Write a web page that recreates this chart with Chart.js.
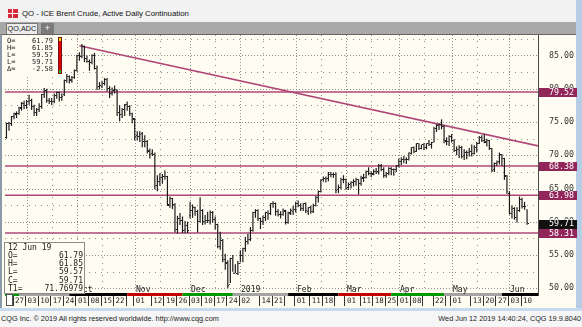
<!DOCTYPE html>
<html>
<head>
<meta charset="utf-8">
<script src="https://cdn.jsdelivr.net/npm/chart.js@4.4.0/dist/chart.umd.min.js"></script>
<style>
  html, body { margin: 0; padding: 0; }
  body { width: 582px; height: 327px; position: relative; overflow: hidden; background: #f0f0f0; font-family: "Liberation Sans", Arial, sans-serif; }
  #titlebar { position: absolute; left: 0; top: 0; width: 576px; height: 22px; background: #f2f2f2; }
  #icon { position: absolute; left: 8px; top: 9px; width: 10px; height: 9px; background-color: #d8283c;
          background-image: linear-gradient(90deg, transparent 4px, #fff 4px, #fff 5px, transparent 5px), linear-gradient(0deg, transparent 4px, #fff 4px, #fff 5px, transparent 5px); }
  #title { position: absolute; left: 22px; top: 9px; font-size: 7.8px; line-height: 10px; color: #111; white-space: nowrap; }
  #tabrow { position: absolute; left: 0; top: 22px; width: 576px; height: 12px; background: #a8a8a8; }
  #tab1 { position: absolute; left: 6px; top: 23px; width: 32px; height: 11px; background: #ececec; border: 1px solid #777; border-bottom: none; box-sizing: border-box; font-size: 7.3px; line-height: 10px; text-align: center; color: #222; }
  #tab2 { position: absolute; left: 41px; top: 23px; width: 13px; height: 11px; background: #7b7b7b; color: #fff; font-size: 9px; line-height: 11px; text-align: center; }
  #panel { position: absolute; left: 0; top: 34px; width: 576px; height: 274px; background: #fffdf2; border-top: 1px solid #666; border-left: 2px solid #8a9aa8; box-sizing: border-box; }
  #frameR { position: absolute; left: 576px; top: 0; width: 6px; height: 308px; background: #b7cde6; }
  #blueline { position: absolute; left: 0; top: 308px; width: 582px; height: 3px; background: #c6d9ee; }
  #status { position: absolute; left: 0; top: 311px; width: 582px; height: 16px; background: #f6f6f6; font-size: 7.3px; line-height: 15px; color: #222; }
  #copy { position: absolute; left: 1px; top: 0; white-space: nowrap; }
  #stamp { position: absolute; right: 1px; top: 0; white-space: nowrap; }
  #chart { position: absolute; left: 0; top: 0; }
</style>
</head>
<body>
<div id="titlebar"><div id="icon"></div><div id="title">QO - ICE Brent Crude, Active Daily Continuation</div></div>
<div id="tabrow"></div>
<div id="tab1">QO,ADC</div>
<div id="tab2">+</div>
<div id="panel"></div>
<div id="frameR"></div>
<div id="blueline"></div>
<div id="status"><span id="copy">CQG Inc. © 2019 All rights reserved worldwide. http://www.cqg.com</span><span id="stamp">Wed Jun 12 2019 14:40:24, CQG 19.9.8040</span></div>
<canvas id="chart" width="582" height="327"></canvas>
<script>
// trading calendar
var firstDay = '2018-08-22';
var lastDay = '2019-06-12';
var holidays = ['2018-12-25', '2019-01-01', '2019-04-19'];

// daily bars, Aug 22 2018 .. Jun 12 2019 (one line per month)
var opens = [
  72.70, 74.80, 74.70, 75.80, 76.20, 76.30, 77.10, 77.80,
  77.50, 78.10, 78.20, 77.30, 76.50, 76.90, 77.40, 79.10, 79.70, 78.20, 78.10, 78.10, 79.00, 79.40, 78.70, 79.10, 81.20, 81.90, 81.30, 81.70,
  82.80, 85.00, 84.80, 86.30, 84.60, 84.10, 83.90, 85.00, 83.10, 80.30, 80.40, 80.80, 81.40, 80.00, 79.30, 79.80, 79.80, 76.40, 76.20, 76.90, 77.60, 77.30, 76.30,
  75.40, 72.90, 72.80, 73.20, 72.10, 72.10, 70.60, 70.20, 70.10, 65.50, 66.10, 66.60, 66.80, 66.80, 62.50, 63.50, 62.60, 58.90, 60.50, 60.20, 58.80, 59.50,
  60.90, 61.70, 62.10, 61.60, 60.10, 61.70, 60.00, 60.20, 60.20, 61.40, 60.30, 59.60, 56.30, 57.20, 54.40, 53.80, 50.50, 54.50, 52.20, 52.20,
  53.80, 54.90, 56.00, 57.10, 57.30, 58.70, 61.40, 61.70, 60.50, 60.00, 60.60, 61.30, 61.20, 62.70, 62.70, 61.50, 61.10, 61.10, 61.60, 59.90, 61.30, 61.60,
  61.90, 62.70, 62.50, 62.00, 62.70, 61.60, 62.10, 61.50, 62.40, 63.60, 64.60, 66.30, 66.50, 66.50, 67.10, 67.10, 67.10, 64.80, 65.20, 66.40,
  66.30, 65.10, 65.70, 65.90, 66.00, 66.30, 65.70, 66.60, 66.70, 67.60, 67.20, 67.20, 67.50, 67.60, 68.50, 67.90, 67.00, 67.20, 68.00, 67.80, 67.80,
  68.40, 69.00, 69.40, 69.30, 69.40, 70.30, 71.10, 70.60, 71.70, 71.00, 71.60, 71.20, 71.70, 71.60, 72.00, 74.00, 74.50, 74.60, 74.30, 72.10, 72.00,
  72.80, 72.20, 70.70, 70.90, 71.20, 69.90, 70.40, 70.40, 70.60, 70.20, 71.20, 71.80, 72.60, 72.20, 72.00, 72.20, 71.00, 67.80, 68.70, 69.00, 70.10, 69.50, 66.90,
  64.30, 61.30, 62.00, 60.60, 61.70, 63.30, 62.30, 61.79
];
var highs = [
  74.90, 75.00, 75.90, 76.40, 76.60, 77.30, 78.00, 78.20,
  78.30, 79.10, 78.50, 77.60, 77.10, 77.80, 79.20, 80.10, 80.00, 78.60, 78.60, 79.30, 79.60, 79.60, 79.30, 81.40, 82.20, 82.00, 81.90, 82.90,
  85.10, 85.50, 86.74, 86.50, 85.00, 84.40, 85.20, 85.40, 83.50, 81.00, 81.20, 81.60, 81.60, 80.40, 80.20, 80.50, 79.90, 77.50, 77.10, 77.70, 78.10, 77.50, 76.40,
  75.60, 73.60, 73.60, 73.50, 73.00, 72.30, 71.00, 70.90, 70.40, 67.00, 67.30, 67.20, 67.70, 66.90, 63.80, 63.60, 62.80, 60.90, 61.30, 60.80, 60.10, 60.00,
  63.00, 62.60, 62.30, 61.80, 63.70, 61.90, 61.00, 61.50, 61.70, 61.60, 60.80, 59.70, 58.50, 57.40, 55.20, 54.20, 54.60, 55.00, 53.60, 54.10,
  55.70, 56.10, 57.70, 58.20, 59.20, 61.50, 61.90, 61.90, 60.60, 60.90, 61.50, 61.70, 62.80, 63.10, 62.90, 61.90, 61.60, 62.00, 61.80, 61.50, 62.00, 62.40,
  63.00, 63.20, 62.80, 62.80, 62.90, 62.20, 62.40, 62.70, 63.90, 64.70, 66.40, 66.80, 66.80, 67.50, 67.50, 67.40, 67.40, 65.60, 66.60, 67.00,
  66.50, 65.90, 66.10, 66.40, 66.60, 66.40, 66.90, 67.20, 67.70, 68.20, 67.60, 67.90, 68.10, 68.70, 68.70, 68.20, 67.50, 68.20, 68.20, 68.00, 68.50,
  69.50, 69.70, 69.90, 69.70, 70.40, 71.20, 71.30, 71.80, 71.80, 71.60, 71.80, 71.80, 72.30, 72.00, 74.30, 74.70, 74.80, 75.40, 74.50, 72.70, 73.00,
  73.20, 72.40, 71.30, 71.50, 71.40, 70.90, 70.70, 71.10, 71.60, 71.50, 72.00, 72.90, 73.00, 73.20, 72.50, 72.30, 71.10, 68.90, 69.20, 70.40, 70.20, 69.60, 67.00,
  64.60, 62.50, 62.20, 62.20, 63.80, 63.60, 63.00, 61.85
];
var lows = [
  72.50, 73.70, 74.40, 75.40, 75.60, 76.10, 76.70, 76.90,
  77.00, 77.60, 76.80, 75.90, 75.90, 76.50, 77.00, 78.60, 77.90, 77.70, 77.50, 77.80, 78.50, 78.10, 78.20, 78.90, 80.90, 80.80, 80.90, 81.50,
  82.60, 84.20, 84.60, 84.00, 83.90, 82.70, 83.70, 82.90, 79.80, 79.90, 80.10, 80.50, 79.60, 78.60, 79.00, 79.30, 75.90, 75.10, 75.60, 75.90, 76.70, 75.90, 74.80,
  72.20, 72.20, 72.00, 71.20, 71.20, 70.30, 69.50, 69.90, 64.90, 64.60, 65.40, 65.70, 66.30, 62.40, 62.10, 61.90, 58.40, 58.20, 59.50, 58.30, 58.30, 58.30,
  60.50, 60.60, 60.90, 58.40, 59.90, 59.50, 59.60, 59.80, 59.60, 59.90, 58.80, 56.00, 55.80, 53.90, 52.80, 50.00, 50.80, 52.50, 52.30, 52.00,
  53.90, 53.90, 55.50, 56.60, 57.10, 58.50, 60.60, 60.10, 58.90, 59.50, 60.10, 60.30, 61.00, 62.10, 60.90, 60.80, 60.50, 60.90, 59.60, 59.70, 61.00, 61.00,
  61.40, 62.20, 61.60, 61.60, 61.30, 61.00, 61.20, 61.30, 62.30, 62.90, 64.40, 66.00, 65.90, 66.10, 66.70, 66.60, 64.30, 64.30, 64.90, 65.80,
  64.80, 64.80, 65.00, 65.30, 65.40, 64.10, 65.40, 66.00, 66.50, 67.00, 66.70, 67.00, 67.20, 67.10, 67.60, 66.60, 66.60, 67.00, 67.00, 66.90, 67.50,
  68.20, 68.50, 68.80, 68.70, 69.20, 70.10, 70.30, 70.50, 70.80, 70.90, 70.80, 70.90, 71.40, 71.00, 71.90, 73.50, 73.80, 73.90, 71.80, 71.50, 71.40,
  71.90, 70.50, 70.00, 69.60, 69.50, 69.30, 69.40, 69.80, 69.80, 70.10, 70.40, 71.70, 72.00, 71.80, 71.30, 70.80, 67.50, 67.50, 68.40, 68.60, 68.40, 66.30, 64.20,
  61.10, 60.50, 60.30, 59.90, 61.50, 62.00, 61.80, 59.57
];
var closes = [
  74.78, 74.73, 75.82, 76.21, 76.31, 77.14, 77.77, 77.42,
  78.15, 78.17, 77.27, 76.50, 76.83, 77.37, 79.06, 79.74, 78.18, 78.09, 78.05, 79.03, 79.40, 78.70, 78.80, 81.20, 81.87, 81.34, 81.72, 82.72,
  84.98, 84.80, 86.29, 84.58, 84.16, 83.91, 85.00, 83.09, 80.26, 80.43, 80.78, 81.41, 80.05, 79.29, 79.78, 79.83, 76.44, 76.17, 76.89, 77.62, 77.34, 76.31, 75.47,
  72.89, 72.83, 73.17, 72.13, 72.07, 70.65, 70.18, 70.12, 65.47, 66.12, 66.62, 66.76, 66.79, 62.53, 63.48, 62.60, 58.80, 60.48, 60.21, 58.76, 59.51, 58.71,
  61.69, 62.08, 61.56, 60.06, 61.67, 59.97, 60.20, 60.15, 61.45, 60.28, 59.61, 56.26, 57.24, 54.35, 53.82, 50.47, 54.47, 52.16, 52.20, 53.80,
  54.91, 55.95, 57.06, 57.33, 58.72, 61.44, 61.68, 60.48, 59.99, 60.64, 61.32, 61.18, 62.70, 62.74, 61.50, 61.14, 61.09, 61.64, 59.93, 61.32, 61.65, 61.89,
  62.75, 62.51, 61.98, 62.69, 61.63, 62.10, 61.51, 62.42, 63.61, 64.57, 66.25, 66.50, 66.45, 67.08, 67.07, 67.12, 64.76, 65.21, 66.39, 66.31,
  65.07, 65.67, 65.86, 65.99, 66.30, 65.74, 66.58, 66.67, 67.55, 67.23, 67.16, 67.54, 67.61, 68.50, 67.86, 67.03, 67.21, 67.97, 67.83, 67.82, 68.39,
  69.01, 69.37, 69.31, 69.40, 70.34, 71.10, 70.61, 71.73, 71.02, 71.55, 71.18, 71.72, 71.62, 71.97, 74.04, 74.51, 74.57, 74.35, 72.15, 72.04, 72.80,
  72.18, 70.75, 70.85, 71.24, 69.88, 70.37, 70.39, 70.62, 70.23, 71.24, 71.77, 72.62, 72.21, 71.97, 72.18, 70.99, 67.76, 68.69, 68.97, 70.11, 69.45, 66.87, 64.49,
  61.28, 61.97, 60.63, 61.67, 63.29, 62.29, 62.29, 59.71
];

// drawn studies
var levels = [79.52, 68.38, 63.98, 58.31];
var trendPts = [[29, 86.45], [212, 71.36]];
var trendAtLast = '71.76979';

// axes
var yTicks = [50, 55, 60, 65, 70, 75, 80, 85];
var yMinor = [52.5, 57.5, 62.5, 67.5, 72.5, 77.5, 82.5, 87.5];
var yMin = 49.29, yMax = 88.08;
var xMin = -0.58, xMax = 211.35;
var dayTickDates = ['2018-08-27', '2018-09-03', '2018-09-10', '2018-09-17', '2018-09-24', '2018-10-01', '2018-10-08', '2018-10-15', '2018-10-22',
  '2018-11-01', '2018-11-12', '2018-11-19', '2018-11-26', '2018-12-03', '2018-12-10', '2018-12-17', '2018-12-24', '2019-01-02', '2019-01-14', '2019-01-21',
  '2019-02-01', '2019-02-11', '2019-02-18', '2019-03-01', '2019-03-11', '2019-03-18', '2019-03-25', '2019-04-01', '2019-04-08', '2019-04-22',
  '2019-05-01', '2019-05-13', '2019-05-20', '2019-05-27', '2019-06-03', '2019-06-10'];
var blankSepDates = ['2018-10-29', '2019-01-28', '2019-02-25', '2019-04-15', '2019-04-29'];
var monthTickDates = ['2018-09-03', '2018-10-01', '2018-11-01', '2018-12-03', '2019-01-02', '2019-02-01', '2019-03-01', '2019-04-01', '2019-05-01', '2019-06-03'];
var monthTickText = ['Sep', 'Oct', 'Nov', 'Dec', '2019', 'Feb', 'Mar', 'Apr', 'May', 'Jun'];
var midMonthDates = ['2018-09-17', '2018-10-15', '2018-11-15', '2018-12-17', '2019-01-15', '2019-02-15', '2019-03-15', '2019-04-15', '2019-05-15'];

function buildDays() {
  var out = [];
  var d = new Date(firstDay + 'T00:00:00Z');
  var end = new Date(lastDay + 'T00:00:00Z');
  while (d <= end) {
    var wd = d.getUTCDay();
    var s = d.toISOString().slice(0, 10);
    if (wd != 0 && wd != 6 && holidays.indexOf(s) < 0) out.push(s);
    d.setUTCDate(d.getUTCDate() + 1);
  }
  return out;
}
var days = buildDays();
function idx(s) { return days.indexOf(s); }

var last = closes.length - 1;
var barColor = '#1c1c1c';
var lineColor = '#b04678';
var boxColor = '#92265a';

// open / close ticks as tiny images so chart.js places them
function tickImg(right) {
  var c = document.createElement('canvas');
  c.width = 3; c.height = 1;
  var g = c.getContext('2d');
  g.fillStyle = barColor;
  g.fillRect(right ? 2 : 0, 0, 1, 1);
  return c;
}

function hline(ctx, x0, x1, y) { ctx.beginPath(); ctx.moveTo(x0, y); ctx.lineTo(x1, y); ctx.stroke(); }
function vline(ctx, x, y0, y1) { ctx.beginPath(); ctx.moveTo(x, y0); ctx.lineTo(x, y1); ctx.stroke(); }

var decor = {
  id: 'decor',
  beforeDatasetsDraw: function(chart) {
    var ctx = chart.ctx, a = chart.chartArea, xs = chart.scales.x, ys = chart.scales.y;
    ctx.save();
    ctx.lineWidth = 1;
    ctx.strokeStyle = '#8e8e8e';
    ctx.setLineDash([1, 2]);
    yTicks.forEach(function(v) { hline(ctx, a.left, a.right, Math.round(ys.getPixelForValue(v)) + 0.5); });
    monthTickDates.forEach(function(s) { vline(ctx, Math.round(xs.getPixelForValue(idx(s))) + 0.5, a.top, a.bottom); });
    ctx.setLineDash([1, 5]);
    yMinor.forEach(function(v) {
      var y = Math.round(ys.getPixelForValue(v)) + 0.5;
      if (y > a.top) hline(ctx, a.left, a.right, y);
    });
    midMonthDates.forEach(function(s) { vline(ctx, Math.round(xs.getPixelForValue(idx(s))) + 0.5, a.top, a.bottom); });
    ctx.restore();
  },
  afterDraw: function(chart) {
    var ctx = chart.ctx, a = chart.chartArea, xs = chart.scales.x, ys = chart.scales.y;
    ctx.save();

    // month colour band under the plot
    var bandColors = ['#009a00', '#a3a3a3', '#000000', '#c40000'];
    var starts = [0];
    for (var i = 1; i < days.length; i++) if (days[i].slice(5, 7) != days[i - 1].slice(5, 7)) starts.push(i);
    starts.forEach(function(st, k) {
      var x0 = k == 0 ? a.left : Math.max(a.left, xs.getPixelForValue(st - 3));
      var x1 = k == starts.length - 1 ? a.right : Math.min(a.right, xs.getPixelForValue(starts[k + 1] - 3));
      ctx.fillStyle = bandColors[parseInt(days[st].slice(5, 7), 10) % 4];
      ctx.fillRect(x0, a.bottom, x1 - x0, 3);
    });

    // month labels
    ctx.fillStyle = '#222';
    ctx.font = '8px "DejaVu Sans Mono"';
    ctx.textBaseline = 'alphabetic';
    ctx.textAlign = 'left';
    monthTickDates.forEach(function(s, k) {
      ctx.fillText(monthTickText[k], Math.round(xs.getPixelForValue(idx(s))) + 1, a.bottom - 1);
    });

    // week separators in the date row
    ctx.strokeStyle = '#333';
    ctx.lineWidth = 1;
    dayTickDates.concat(blankSepDates).forEach(function(s) {
      vline(ctx, Math.floor(xs.getPixelForValue(idx(s))) - 0.5, a.bottom + 3, a.bottom + 13);
    });

    // data window, bottom left
    ctx.fillStyle = '#fffdf2';
    ctx.fillRect(4.5, 242.5, 80, 51);
    ctx.strokeStyle = '#8c8c8c';
    ctx.strokeRect(4.5, 242.5, 80, 51);
    ctx.fillStyle = '#fff';
    ctx.fillRect(6.5, 294.5, 6, 11);
    ctx.strokeStyle = '#555';
    ctx.strokeRect(6.5, 294.5, 6, 11);
    ctx.fillStyle = '#1a1a1a';
    ctx.font = '8px "DejaVu Sans Mono"';
    ctx.textBaseline = 'middle';
    ctx.fillText('12 Jun 19', 8, 247.5);
    var rows = [['O=', opens[last].toFixed(2)], ['H=', highs[last].toFixed(2)], ['L=', lows[last].toFixed(2)],
                ['C=', closes[last].toFixed(2)], ['T1=', trendAtLast]];
    rows.forEach(function(r, k) {
      var y = 255.8 + k * 8.3;
      ctx.textAlign = 'left';
      ctx.fillText(r[0], 8, y);
      ctx.textAlign = 'right';
      ctx.fillText(r[1], 83, y);
    });

    // data window, top left
    ctx.fillStyle = '#fffdf2';
    ctx.fillRect(a.left, a.top + 0.5, 57, 40);
    ctx.fillStyle = '#1a1a1a';
    ctx.font = '7px "DejaVu Sans Mono"';
    var top = [['O=', opens[last].toFixed(2)], ['H=', highs[last].toFixed(2)], ['L=', lows[last].toFixed(2)],
               ['L=', closes[last].toFixed(2)], ['\u0394=', (closes[last] - closes[last - 1]).toFixed(2)]];
    top.forEach(function(r, k) {
      var y = 40.7 + k * 7;
      ctx.textAlign = 'left';
      ctx.fillText(r[0], 7, y);
      ctx.textAlign = 'right';
      ctx.fillText(r[1], 53, y);
    });
    ctx.fillStyle = '#e00000';
    ctx.fillRect(58, 37, 4, 37);
    ctx.fillStyle = '#e6e000';
    ctx.fillRect(58, 37, 4, 4);
    ctx.fillStyle = '#19c019';
    ctx.fillRect(58, 70, 4, 4);
    ctx.strokeStyle = '#7a1010';
    ctx.strokeRect(58.5, 37.5, 3, 36);

    // price boxes on the right axis
    ctx.font = '8.3px "DejaVu Sans Mono"';
    ctx.textAlign = 'left';
    ctx.textBaseline = 'middle';
    function box(v, col) {
      var y = ys.getPixelForValue(v);
      ctx.fillStyle = col;
      ctx.fillRect(a.right + 1, Math.round(y) - 4, 38, 9);
      ctx.fillStyle = '#fff';
      ctx.fillText(v.toFixed(2), a.right + 11, y + 0.5);
    }
    levels.forEach(function(v) { box(v, boxColor); });
    box(closes[last], '#111');

    // plot frame
    ctx.strokeStyle = '#4a4a4a';
    vline(ctx, a.right + 0.5, a.top, a.bottom + 3);
    ctx.restore();
  }
};

var datasets = [
  {
    type: 'bar', label: 'hilo', order: 1,
    data: highs.map(function(h, i) { return { x: i, y: [lows[i], h] }; }),
    backgroundColor: barColor, borderWidth: 0, barThickness: 1.2, inflateAmount: 0
  },
  {
    type: 'scatter', label: 'open', order: 0,
    data: opens.map(function(v, i) { return { x: i, y: v }; }),
    pointStyle: tickImg(false), pointRadius: 1, pointHoverRadius: 1
  },
  {
    type: 'scatter', label: 'close', order: 0,
    data: closes.map(function(v, i) { return { x: i, y: v }; }),
    pointStyle: tickImg(true), pointRadius: 1, pointHoverRadius: 1
  },
  {
    type: 'line', label: 'trend', order: 2,
    data: trendPts.map(function(p) { return { x: p[0], y: p[1] }; }),
    borderColor: lineColor, borderWidth: 1.6, pointRadius: 0, clip: 0
  }
];
levels.forEach(function(v) {
  datasets.push({
    type: 'line', label: 'level ' + v, order: 2,
    data: [{ x: xMin, y: v }, { x: xMax, y: v }],
    borderColor: lineColor, borderWidth: 1.6, pointRadius: 0, clip: 0
  });
});

new Chart(document.getElementById('chart'), {
  type: 'bar',
  data: { datasets: datasets },
  options: {
    responsive: false,
    animation: false,
    events: [],
    devicePixelRatio: 1,
    layout: { padding: { left: 5, top: 35, right: 0, bottom: 19 } },
    plugins: { legend: { display: false }, tooltip: { enabled: false } },
    scales: {
      x: {
        type: 'linear', min: xMin, max: xMax, offset: false,
        grid: { display: false, drawTicks: false },
        border: { display: false },
        afterBuildTicks: function(s) { s.ticks = dayTickDates.map(function(d) { return { value: idx(d) }; }); },
        afterFit: function(s) { s.height = 15; },
        ticks: {
          autoSkip: false, maxRotation: 0, minRotation: 0, align: 'start', labelOffset: 1, padding: 4,
          color: '#1e1e1e', font: { family: 'DejaVu Sans Mono', size: 7.5 },
          callback: function(v) { return days[v] ? days[v].slice(8, 10) : ''; }
        }
      },
      y: {
        position: 'right', min: yMin, max: yMax,
        grid: { display: false, drawTicks: false },
        border: { display: false },
        afterBuildTicks: function(s) { s.ticks = yTicks.map(function(v) { return { value: v }; }); },
        afterFit: function(s) { s.width = 44; },
        ticks: {
          padding: 11, color: '#333', font: { family: 'DejaVu Sans Mono', size: 8.3 },
          callback: function(v) { return v.toFixed(2); }
        }
      }
    }
  },
  plugins: [decor]
});
</script>
</body>
</html>
